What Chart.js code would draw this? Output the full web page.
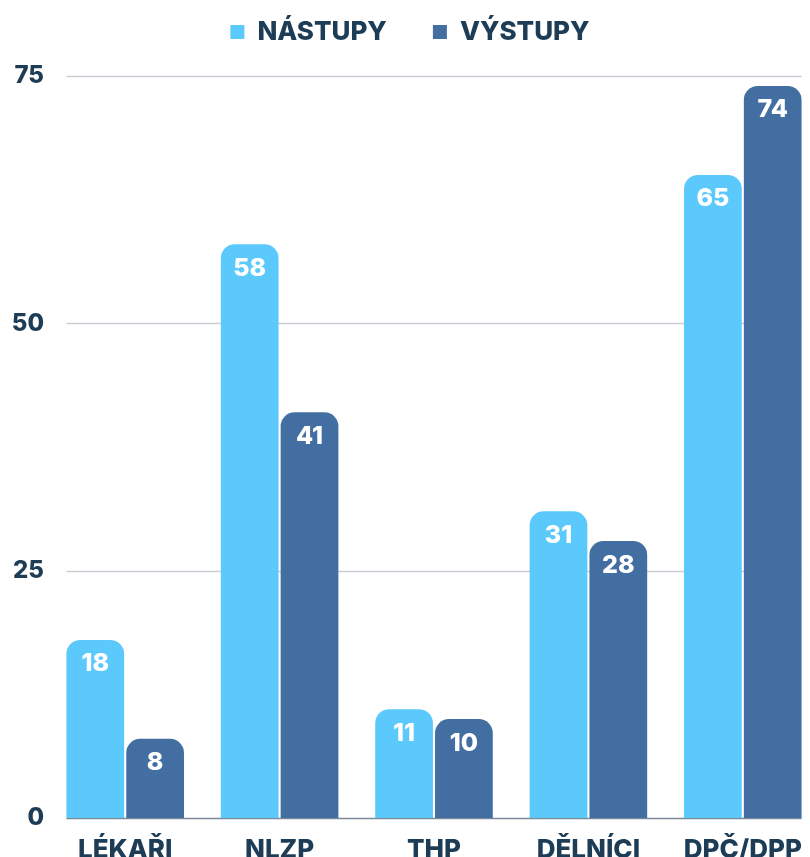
<!DOCTYPE html>
<html>
<head>
<meta charset="utf-8">
<script src="https://cdn.jsdelivr.net/npm/chart.js@4.4.1/dist/chart.umd.min.js"></script>
<style>
  html, body { margin: 0; padding: 0; background: #fff; overflow: hidden; }
  #wrap { position: relative; width: 820px; height: 857px; }
</style>
</head>
<body>
<div id="wrap"><canvas id="chart"></canvas></div>
<script>
/* =========================
   DATA
========================= */
const categories = ["LÉKAŘI", "NLZP", "THP", "DĚLNÍCI", "DPČ/DPP"];
const nastupy = [18, 58, 11, 31, 65];
const vystupy = [8, 41, 10, 28, 74];
const seriesNames = ["NÁSTUPY", "VÝSTUPY"];
const yTicks = [0, 25, 50, 75];

const TEXT = "#1d3c56";
const LIGHT = "#5bc9fb";
const DARK = "#436ea1";
const FONT = "Inter, 'DejaVu Sans', sans-serif";

/* =========================
   PLUGINS
========================= */
// legend keeps its wide item gap, but gets a fixed height
const legendHeight = {
  id: "legendHeight",
  beforeInit(chart) {
    const lg = chart.legend;
    if (!lg) return;
    const fit = lg.fit;
    lg.fit = function () {
      fit.call(this);
      this.height += 21;
    };
  }
};

// grid lines span only from first bar to last bar, like the original
const gridPlugin = {
  id: "gridLines",
  beforeDatasetsDraw(chart) {
    const ctx = chart.ctx;
    const y = chart.scales.y;
    const first = chart.getDatasetMeta(0).data[0];
    const last = chart.getDatasetMeta(1).data[categories.length - 1];
    const x0 = first.x - first.width / 2;
    const x1 = last.x + last.width / 2;
    ctx.save();
    yTicks.forEach(v => {
      const py = Math.round(y.getPixelForValue(v)) + 0.5;
      ctx.strokeStyle = v === 0 ? "#7b8998" : "#c9ced4";
      ctx.lineWidth = 1.5;
      ctx.beginPath();
      ctx.moveTo(x0, py);
      ctx.lineTo(x1, py);
      ctx.stroke();
    });
    ctx.restore();
  }
};

// value labels inside the top of each bar
const valuePlugin = {
  id: "values",
  afterDatasetsDraw(chart) {
    const ctx = chart.ctx;
    ctx.save();
    ctx.fillStyle = "#fff";
    ctx.font = "800 25px " + FONT;
    ctx.textAlign = "center";
    ctx.textBaseline = "middle";
    chart.data.datasets.forEach((ds, i) => {
      chart.getDatasetMeta(i).data.forEach((bar, j) => {
        ctx.fillText(ds.data[j], bar.x, bar.y + 24);
      });
    });
    ctx.restore();
  }
};

/* =========================
   CHART
========================= */
new Chart(document.getElementById("chart"), {
  type: "bar",
  data: {
    labels: categories,
    datasets: [
      { label: seriesNames[0], data: nastupy, backgroundColor: LIGHT },
      { label: seriesNames[1], data: vystupy, backgroundColor: DARK }
    ]
  },
  options: {
    responsive: true,
    maintainAspectRatio: false,
    animation: false,
    layout: { padding: { left: 0, right: 0, top: -27, bottom: 0 } },
    datasets: {
      bar: {
        categoryPercentage: 0.775,
        barPercentage: 0.965,
        borderRadius: 14,
        borderSkipped: "start"
      }
    },
    plugins: {
      tooltip: { enabled: false },
      legend: {
        position: "top",
        labels: {
          color: TEXT,
          font: { family: FONT, size: 26, weight: "800" },
          usePointStyle: true,
          pointStyle: "rect",
          boxWidth: 14,
          boxHeight: 14,
          padding: 46
        }
      }
    },
    scales: {
      x: {
        grid: { display: false, drawTicks: false },
        border: { display: false },
        ticks: {
          color: TEXT,
          padding: 17,
          font: { family: FONT, size: 26, weight: "800" }
        },
        afterFit(scale) { scale.height = 39; }
      },
      y: {
        min: 0,
        max: 75,
        grid: { display: false, drawTicks: false },
        border: { display: false },
        ticks: {
          stepSize: 25,
          color: TEXT,
          padding: 4,
          font: { family: FONT, size: 24, weight: "800" }
        },
        afterFit(scale) { scale.width = 48; }
      }
    }
  },
  plugins: [legendHeight, gridPlugin, valuePlugin]
});
</script>
</body>
</html>
